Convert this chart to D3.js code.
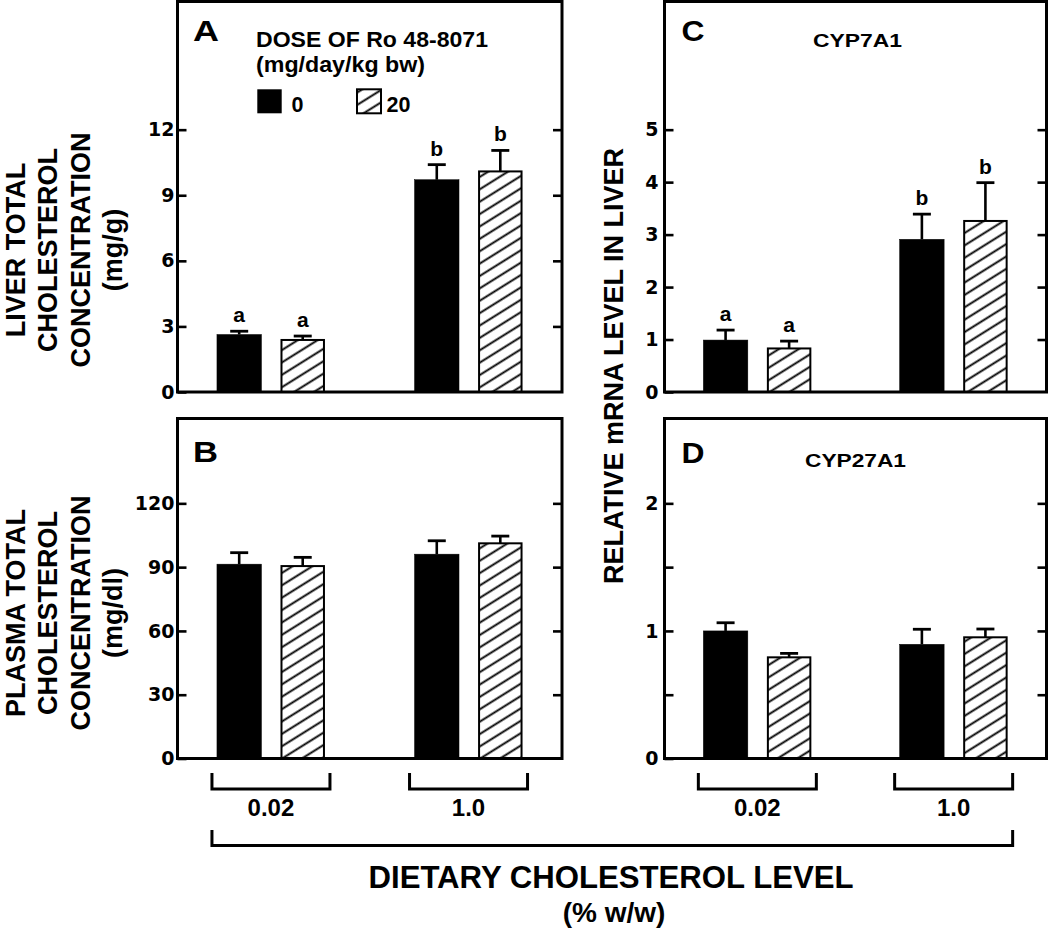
<!DOCTYPE html>
<html><head><meta charset="utf-8">
<script src="https://cdn.jsdelivr.net/npm/d3@7"></script>
<style>body{margin:0;background:#fff} svg{display:block}</style>
</head><body><svg id="c" width="1050" height="932"></svg>
<script>
// ---------- data ----------
const groups = ["0.02", "1.0"];           // dietary cholesterol level (% w/w)
const doses = ["0", "20"];                // dose of Ro 48-8071 (mg/day/kg bw)

// Panel A: liver total cholesterol (mg/g)
const liverChol0 = [2.63, 9.71];
const liverChol20 = [2.38, 10.09];
const liverCholSem0 = [0.15, 0.69];
const liverCholSem20 = [0.18, 0.96];
const liverCholLetters = ["a", "b"];
// Panel B: plasma total cholesterol (mg/dl)
const plasmaChol0 = [91.4, 96.1];
const plasmaChol20 = [90.5, 101.2];
const plasmaCholSem0 = [5.4, 6.3];
const plasmaCholSem20 = [4.1, 3.4];
// Panel C: CYP7A1 relative mRNA
const cyp7a1_0 = [0.99, 2.91];
const cyp7a1_20 = [0.83, 3.26];
const cyp7a1Sem0 = [0.19, 0.48];
const cyp7a1Sem20 = [0.14, 0.73];
const cyp7a1Letters = ["a", "b"];
// Panel D: CYP27A1 relative mRNA
const cyp27a1_0 = [1.0, 0.895];
const cyp27a1_20 = [0.793, 0.95];
const cyp27a1Sem0 = [0.064, 0.118];
const cyp27a1Sem20 = [0.031, 0.065];

// axis ticks
const ticksA = [0, 3, 6, 9, 12], labelsA = [0, 3, 6, 9, 12];
const ticksB = [0, 30, 60, 90, 120], labelsB = [0, 30, 60, 90, 120];
const ticksC = [0, 1, 2, 3, 4, 5], labelsC = [0, 1, 2, 3, 4, 5];
const ticksD = [0, 0.5, 1, 1.5, 2], labelsD = [0, 1, 2];

// ---------- drawing ----------
const FONT = "'Liberation Sans', Arial, Helvetica, sans-serif";
const TICKFONT = "'DejaVu Sans', Verdana, sans-serif";
const svg = d3.select("#c");
svg.append("rect").attr("width", 1050).attr("height", 932).attr("fill", "#fff");

const defs = svg.append("defs");
const pat = defs.append("pattern").attr("id", "hatch")
  .attr("patternUnits", "userSpaceOnUse").attr("width", 10.5).attr("height", 10.5)
  .attr("patternTransform", "rotate(-32)");
pat.append("rect").attr("width", 10.5).attr("height", 10.5).attr("fill", "#fff");
pat.append("line").attr("x1", -1).attr("x2", 11.5).attr("y1", 5.25).attr("y2", 5.25)
  .attr("stroke", "#000").attr("stroke-width", 1.9);

function txt(x, y, s, size, opts = {}) {
  const t = svg.append("text").attr("x", x).attr("y", y).text(s)
    .attr("font-family", opts.family || FONT).attr("font-weight", "bold")
    .attr("font-size", size).attr("fill", "#000")
    .attr("text-anchor", opts.anchor || "start");
  if (opts.len) t.attr("textLength", opts.len).attr("lengthAdjust", "spacingAndGlyphs");
  return t;
}

const panels = [
  { id: "A", x0: 177.5, x1: 562, yTop: 1.5, yBot: 392, yScaleTop: -1.5, max: 18,
    m0: liverChol0, m20: liverChol20, s0: liverCholSem0, s20: liverCholSem20,
    letters: liverCholLetters, ticks: ticksA, labels: labelsA, pad: 3 },
  { id: "B", x0: 177.5, x1: 562, yTop: 418.5, yBot: 758.5, yScaleTop: 418.3, max: 160,
    m0: plasmaChol0, m20: plasmaChol20, s0: plasmaCholSem0, s20: plasmaCholSem20,
    letters: null, ticks: ticksB, labels: labelsB, pad: 3 },
  { id: "C", x0: 664.5, x1: 1046.5, yTop: 1.5, yBot: 392, yScaleTop: -1.5, max: 7.5,
    m0: cyp7a1_0, m20: cyp7a1_20, s0: cyp7a1Sem0, s20: cyp7a1Sem20,
    letters: cyp7a1Letters, ticks: ticksC, labels: labelsC, pad: 6 },
  { id: "D", x0: 664.5, x1: 1046.5, yTop: 418.5, yBot: 758.5, yScaleTop: 418.3, max: 8 / 3,
    m0: cyp27a1_0, m20: cyp27a1_20, s0: cyp27a1Sem0, s20: cyp27a1Sem20,
    letters: null, ticks: ticksD, labels: labelsD, pad: 6 }
];

const xScales = {};
panels.forEach(p => {
  const y = d3.scaleLinear().domain([0, p.max]).range([p.yBot, p.yScaleTop]);
  const xg = d3.scalePoint().domain(groups).range([p.x0, p.x1]).padding(0.473);
  const xd = d3.scaleBand().domain(doses).range([-54, 54]).paddingInner(0.3);
  xScales[p.id] = xg;
  const rows = [];
  groups.forEach((grp, i) => {
    rows.push({ grp, dose: "0", mean: p.m0[i], sem: p.s0[i], letter: p.letters ? p.letters[i] : null });
    rows.push({ grp, dose: "20", mean: p.m20[i], sem: p.s20[i], letter: p.letters ? p.letters[i] : null });
  });
  const g = svg.append("g");
  const cx = d => xg(d.grp) + xd(d.dose) + xd.bandwidth() / 2;
  // error bars
  g.selectAll("line.err").data(rows).join("line")
    .attr("x1", cx).attr("x2", cx).attr("y1", d => y(d.mean)).attr("y2", d => y(d.mean + d.sem))
    .attr("stroke", "#000").attr("stroke-width", 2.6);
  g.selectAll("line.cap").data(rows).join("line")
    .attr("x1", d => cx(d) - 9).attr("x2", d => cx(d) + 9)
    .attr("y1", d => y(d.mean + d.sem)).attr("y2", d => y(d.mean + d.sem))
    .attr("stroke", "#000").attr("stroke-width", 2.8);
  // bars
  g.selectAll("rect.bar").data(rows).join("rect")
    .attr("x", d => xg(d.grp) + xd(d.dose) + (d.dose === "0" ? 0 : 1))
    .attr("width", d => xd.bandwidth() - (d.dose === "0" ? 0 : 2))
    .attr("y", d => y(d.mean)).attr("height", d => y(0) - y(d.mean))
    .attr("fill", d => d.dose === "0" ? "#000" : "url(#hatch)")
    .attr("stroke", "#000").attr("stroke-width", d => d.dose === "0" ? 0.5 : 2);
  // significance letters
  if (p.letters) {
    g.selectAll("text.sig").data(rows).join("text")
      .attr("x", cx).attr("y", d => y(d.mean + d.sem) - 9)
      .attr("text-anchor", "middle").attr("font-family", FONT).attr("font-weight", "bold")
      .attr("font-size", 21).text(d => d.letter);
  }
  // axes (inward ticks)
  const styleAxis = a => {
    a.select(".domain").remove();
    a.selectAll("line").attr("stroke", "#000").attr("stroke-width", 2.6);
    a.selectAll("text").attr("font-family", TICKFONT).attr("font-weight", "bold")
      .attr("font-size", 19).attr("fill", "#000");
  };
  g.append("g").attr("transform", `translate(${p.x0},0)`)
    .call(d3.axisLeft(y).tickValues(p.ticks).tickSizeInner(-9).tickSizeOuter(0).tickPadding(p.pad)
      .tickFormat(d => p.labels.includes(d) ? String(d) : ""))
    .call(styleAxis);
  g.append("g").attr("transform", `translate(${p.x1},0)`)
    .call(d3.axisRight(y).tickValues(p.ticks.filter(v => v > 0)).tickSizeInner(-9).tickSizeOuter(0)
      .tickFormat(() => ""))
    .call(styleAxis);
  // frame
  g.append("rect").attr("x", p.x0).attr("y", p.yTop).attr("width", p.x1 - p.x0).attr("height", p.yBot - p.yTop)
    .attr("fill", "none").attr("stroke", "#000").attr("stroke-width", 3);
});

// panel letters
txt(193, 41, "A", 29, { len: 26 });
txt(193, 462, "B", 29, { len: 25 });
txt(681.5, 41, "C", 29, { len: 23 });
txt(681.5, 462.5, "D", 29, { len: 23 });
// gene titles
txt(857.5, 46.7, "CYP7A1", 17.5, { anchor: "middle", len: 89 });
txt(855.5, 466.7, "CYP27A1", 18, { anchor: "middle", len: 101 });

// legend
txt(256, 46.7, "DOSE OF Ro 48-8071", 21.5, { len: 232 });
txt(256, 71.7, "(mg/day/kg bw)", 21.5, { len: 169 });
svg.append("rect").attr("x", 257.3).attr("y", 89.3).attr("width", 24.4).attr("height", 24).attr("fill", "#000");
txt(291.5, 111.7, doses[0], 21.5);
svg.append("rect").attr("x", 357).attr("y", 89.3).attr("width", 24).attr("height", 24)
  .attr("fill", "url(#hatch)").attr("stroke", "#000").attr("stroke-width", 2);
txt(386.5, 112, doses[1], 21.5);

// vertical axis titles
function vTitle(lines, baselines, cy, size) {
  lines.forEach((s, i) => {
    svg.append("text").attr("transform", `translate(${baselines[i]},${cy}) rotate(-90)`)
      .attr("text-anchor", "middle").attr("font-family", FONT).attr("font-weight", "bold")
      .attr("font-size", size).attr("fill", "#000").text(s);
  });
}
vTitle(["LIVER TOTAL", "CHOLESTEROL", "CONCENTRATION", "(mg/g)"], [25, 57.3, 89.7, 122], 250, 27);
vTitle(["PLASMA TOTAL", "CHOLESTEROL", "CONCENTRATION", "(mg/dl)"], [25, 57.3, 89.7, 122], 613, 27);
vTitle(["RELATIVE mRNA LEVEL IN LIVER"], [623], 366, 27);

// group brackets under panels B and D
const br = svg.append("g").attr("fill", "none").attr("stroke", "#000").attr("stroke-width", 3);
["B", "D"].forEach(id => {
  const xg = xScales[id];
  groups.forEach(grp => {
    const c = xg(grp);
    br.append("path").attr("d", `M${c - 59},773 V789 H${c + 59} V773`);
    txt(c, 816, grp, 24, { anchor: "middle" });
  });
});
const bx1 = xScales.B(groups[0]) - 59, bx2 = xScales.D(groups[1]) + 59;
br.append("path").attr("d", `M${bx1},830 V845.5 H${bx2} V830`);

txt(611, 888, "DIETARY CHOLESTEROL LEVEL", 31, { anchor: "middle", len: 485 });
txt(614, 922, "(% w/w)", 28, { anchor: "middle" });
</script>
</body></html>
